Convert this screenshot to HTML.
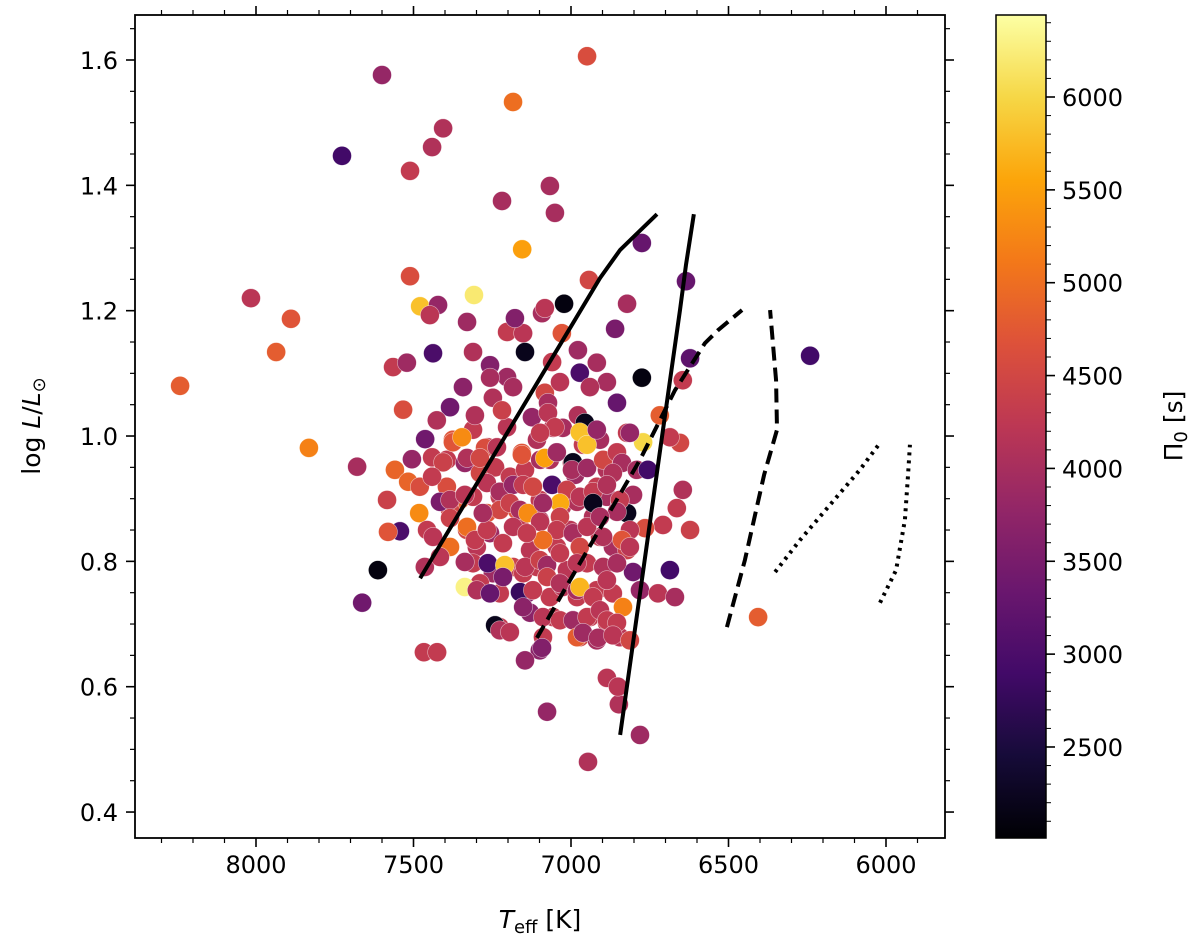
<!DOCTYPE html>
<html><head><meta charset="utf-8"><style>
body{margin:0;background:#fff;}
svg{display:block;font-family:"DejaVu Sans","Liberation Sans",sans-serif;}
</style></head><body>
<svg id="chart" width="1200" height="945" viewBox="0 0 1200 945">
<defs>
<linearGradient id="inferno" x1="0" y1="1" x2="0" y2="0">
<stop offset="0" stop-color="#000004"/><stop offset="0.1" stop-color="#160b39"/><stop offset="0.2" stop-color="#420a68"/><stop offset="0.3" stop-color="#6a176e"/><stop offset="0.4" stop-color="#932667"/><stop offset="0.5" stop-color="#bc3754"/><stop offset="0.6" stop-color="#dd513a"/><stop offset="0.7" stop-color="#f37819"/><stop offset="0.8" stop-color="#fca50a"/><stop offset="0.9" stop-color="#f6d746"/><stop offset="1" stop-color="#fcffa4"/>
</linearGradient>
<clipPath id="clip"><rect x="135" y="15" width="810" height="823"/></clipPath>
</defs>
<g id="plot"></g>
<g id="axes"></g>
<rect x="996" y="15" width="50" height="823" fill="url(#inferno)" stroke="#000" stroke-width="1.5"/>
<g id="cbar"></g>
<text x="0" y="0" transform="translate(40,426) rotate(-90)" text-anchor="middle" font-size="25">log <tspan font-style="italic">L</tspan>/<tspan font-style="italic">L</tspan><tspan font-size="18" dy="5">⊙</tspan></text>
<text x="540" y="928" text-anchor="middle" font-size="25"><tspan font-style="italic">T</tspan><tspan font-size="18" dy="5">eff</tspan><tspan dy="-5"> [K]</tspan></text>
<text x="0" y="0" transform="translate(1182,426) rotate(-90)" text-anchor="middle" font-size="25">Π<tspan font-size="18" dy="5">0</tspan><tspan dy="-5"> [s]</tspan></text>
</svg>
<script>
const xTicks=[8000,7500,7000,6500,6000];
const yTicks=[0.4,0.6,0.8,1.0,1.2,1.4,1.6];
const cTicks=[2500,3000,3500,4000,4500,5000,5500,6000];
const coreT=[7375,7311,7264,7203,7156,7108,7057,6962,6908,6854,6822,7394,7337,7289,7241,7194,7146,7121,7067,6997,6987,6918,6886,7394,7353,7311,7267,7226,7172,7130,7099,7029,6981,6930,6886,6845,7384,7330,7299,7257,7216,7162,7130,7099,7045,7003,6972,6908,6867,6822,7311,7248,7184,7152,7108,7076,7013,6949,6898,6854,7289,7226,7140,7067,7026,6981,6918,6867,6835,7226,7130,7057,6994,6940,6886,6972,6918,7099,6845];
const coreL=[0.994,1.010,0.982,1.014,0.973,0.994,1.013,0.986,0.994,0.966,1.005,0.962,0.957,0.941,0.950,0.935,0.946,0.919,0.962,0.957,0.938,0.919,0.946,0.919,0.898,0.903,0.877,0.903,0.882,0.877,0.898,0.887,0.895,0.871,0.903,0.893,0.882,0.850,0.823,0.845,0.829,0.855,0.818,0.866,0.823,0.850,0.823,0.839,0.823,0.818,0.797,0.781,0.791,0.781,0.791,0.775,0.786,0.797,0.791,0.797,0.765,0.749,0.749,0.743,0.759,0.743,0.754,0.749,0.727,0.695,0.718,0.711,0.706,0.711,0.702,0.679,0.674,0.658,0.679];
const coreP=[4700,4300,4300,4200,4700,4100,4200,4300,4000,4500,4300,4300,3800,4500,4300,4300,4300,4500,4100,4200,3900,4300,4100,4600,4800,4300,4700,4300,4700,4800,4300,4200,4100,4100,4000,4000,4500,4500,4200,3900,4300,4300,4200,4100,4300,4200,4300,4300,4000,4400,4300,3900,4400,4300,4300,4400,4200,4300,4200,4200,4300,4300,3600,4300,4200,4300,4300,4300,5000,4300,3700,4300,4000,4300,4300,4500,4000,3700,4200];
const teff=[8241,8016,7889,7936,7832,7679,7511,7479,7565,7521,7533,7463,7505,7559,7517,7584,7482,7543,7581,7613,7663,7467,7425,
7600,7727,7406,7441,7511,7184,6949,7219,7067,7051,7155,7308,7022,6943,6775,6635,6822,6860,6622,6241,6406,6946,6781,6848,7076,
7422,7448,7330,7203,7152,7178,7092,7083,7029,7438,7311,7146,7257,7203,7257,7184,7060,6978,6972,6918,6886,6940,7083,7035,6854,6775,6645,7343,7384,7248,7219,7305,7426,
7124,7073,7073,6978,6956,7026,6972,6949,6918,7051,7098,6718,6771,6813,6654,6686,7441,7406,7375,7346,7330,7273,7289,7235,7156,7098,7083,7045,6994,6997,6949,6898,6854,6838,6791,6756,
7480,7441,7416,7384,7337,7267,7226,7184,7152,7121,7060,7013,7035,6972,6930,6930,6867,6886,6822,6803,6845,6854,6645,6664,6708,6622,6765,6813,
7457,7438,7384,7330,7384,7305,7267,7226,7194,7162,7137,7089,7035,7098,7045,7089,6994,6949,6898,6838,6908,7184,7280,7140,
7464,7416,7337,7264,7210,7146,7099,7076,7035,6972,6981,6898,6803,6854,6813,6686,7337,7299,7257,7216,7162,7121,7076,7035,6981,6972,6930,6886,6835,6781,6724,6670,
7241,7226,7194,7152,7089,7035,6994,6949,6908,6886,6854,7089,7092,6981,6962,6914,6867,6813,7146,6886,6851];
const logL=[1.080,1.220,1.187,1.134,0.981,0.951,1.255,1.207,1.110,1.117,1.042,0.995,0.963,0.946,0.927,0.898,0.877,0.848,0.847,0.786,0.734,0.655,0.655,
1.576,1.447,1.491,1.461,1.423,1.533,1.606,1.375,1.399,1.356,1.298,1.225,1.211,1.249,1.308,1.247,1.211,1.171,1.124,1.128,0.711,0.480,0.523,0.572,0.560,
1.209,1.193,1.182,1.166,1.164,1.188,1.196,1.204,1.164,1.132,1.134,1.134,1.113,1.094,1.093,1.078,1.118,1.137,1.101,1.117,1.086,1.078,1.069,1.086,1.053,1.093,1.089,1.078,1.046,1.061,1.041,1.033,1.025,
1.030,1.053,1.037,1.033,1.021,1.013,1.006,0.986,1.010,1.014,1.005,1.033,0.990,1.005,0.989,0.998,0.966,0.958,0.990,0.998,0.965,0.981,0.965,0.982,0.970,0.962,0.965,0.974,0.958,0.946,0.949,0.962,0.974,0.957,0.946,0.946,
0.919,0.935,0.895,0.898,0.906,0.925,0.911,0.922,0.922,0.919,0.922,0.914,0.893,0.903,0.911,0.893,0.941,0.922,0.877,0.906,0.898,0.879,0.914,0.885,0.858,0.850,0.853,0.850,
0.850,0.839,0.869,0.855,0.823,0.834,0.850,0.882,0.893,0.882,0.877,0.893,0.871,0.863,0.850,0.834,0.845,0.855,0.839,0.834,0.871,0.855,0.877,0.845,
0.791,0.807,0.799,0.797,0.794,0.791,0.802,0.794,0.813,0.823,0.797,0.791,0.783,0.797,0.823,0.786,0.759,0.754,0.749,0.775,0.751,0.754,0.775,0.765,0.754,0.759,0.743,0.770,0.727,0.754,0.749,0.743,
0.698,0.690,0.687,0.727,0.711,0.706,0.706,0.711,0.722,0.706,0.702,0.679,0.662,0.679,0.686,0.678,0.682,0.674,0.642,0.614,0.600];
const period=[4800,4200,4700,4800,5200,4000,4600,5800,4300,3900,4600,3400,3800,4900,4900,4400,5300,3000,4700,2100,3400,4300,4300,
3800,2900,4100,4100,4300,5000,4600,4000,4000,4000,5500,6200,2100,4500,3300,3300,4000,3500,3200,2900,4800,4100,3900,4100,3800,
3800,4200,3900,4300,4200,3600,4000,4200,4700,3000,4100,2200,3600,3900,4000,4000,4300,3900,3000,4000,4000,4100,4500,4200,3300,2100,4300,3700,3400,4100,4400,4100,4100,
3800,4000,4200,4100,2200,4000,5800,5800,3800,4300,4300,4800,6000,3800,4500,4300,4300,4400,4700,5300,4100,4600,4500,4200,4700,4000,5500,3900,2200,4000,3900,4500,4300,4000,4000,2900,
4600,4300,3500,4100,4200,4200,4000,3800,4300,4500,3000,4400,5600,4200,4300,2200,4100,4100,2200,4000,4300,4000,4100,4300,4300,4400,4600,4200,
4300,4200,4400,5000,5000,4300,4300,4500,4400,4000,5300,3900,4400,4200,4300,5000,4000,4200,4100,4700,4000,4200,4000,4300,
4100,4200,4000,3000,5800,4200,4400,3900,4300,4500,4200,4100,3400,4000,4200,2900,6300,4100,3300,3500,2800,4300,4400,4100,4000,5700,4300,4200,5200,3800,4200,4000,
2200,4100,4200,3700,4200,4300,3900,4300,4200,4300,4300,4300,3600,4800,3900,4000,4200,4500,3800,4200,4200];
const track1T=[7479,6908,6844,6727], track1L=[0.773,1.252,1.297,1.354];
const track2T=[6844,6717,6654,6635,6610], track2L=[0.523,0.978,1.201,1.273,1.354];
const track3T=[7108,7003,6892,6781,6670,6575,6533,6457], track3L=[0.678,0.770,0.866,0.962,1.073,1.148,1.169,1.201];
const track4T=[6505,6448,6387,6346,6349,6368], track4L=[0.695,0.802,0.938,1.010,1.089,1.201];
const track5T=[6352,6273,6178,6083,6019], track5L=[0.783,0.834,0.890,0.946,0.989];
const track6T=[6019,5968,5940,5930,5924], track6L=[0.734,0.786,0.866,0.938,0.986];

const NS="http://www.w3.org/2000/svg";
const X=t=>256+(8000-t)*0.315;
const Y=l=>60+(1.6-l)*626.7;
const CY=p=>97+(6000-p)*0.18571;
const stops=[[0,0,4],[22,11,57],[66,10,104],[106,23,110],[147,38,103],[188,55,84],[221,81,58],[243,120,25],[252,165,10],[246,215,70],[252,255,164]];
function cmap(p){let t=(p-2010)/(6441-2010);t=Math.max(0,Math.min(1,t))*10;const i=Math.min(9,Math.floor(t)),f=t-i;const a=stops[i],b=stops[i+1];return `rgb(${a.map((v,k)=>Math.round(v+(b[k]-v)*f)).join(',')})`;}
function mk(tag,attrs,parent){const e=document.createElementNS(NS,tag);for(const k in attrs)e.setAttribute(k,attrs[k]);parent.appendChild(e);return e;}
const plot=document.getElementById('plot');
const pts=mk('g',{'clip-path':'url(#clip)'},plot);


const allT=coreT.concat(teff), allL=coreL.concat(logL), allP=coreP.concat(period);
for(let i=0;i<allT.length;i++){
 const c=mk('circle',{cx:X(allT[i]),cy:Y(allL[i]),r:9.5,fill:cmap(allP[i]),stroke:'#fff','stroke-width':0.6,'stroke-opacity':0.6},pts);
 
 
}
function track(T,L,dash,name){
 const p=mk('polyline',{points:T.map((t,i)=>X(t)+','+Y(L[i])).join(' '),fill:'none',stroke:'#000','stroke-width':4,'stroke-dasharray':dash},plot);
 
 
}
track(track1T,track1L,'none','solid-track-blue-edge');
track(track2T,track2L,'none','solid-track-red-edge');
track(track3T,track3L,'14,7','dashed-track-blue-edge');
track(track4T,track4L,'14,7','dashed-track-red-edge');
track(track5T,track5L,'3,5','dotted-track-blue-edge');
track(track6T,track6L,'3,5','dotted-track-red-edge');

const ax=document.getElementById('axes');
const fr=mk('rect',{x:135,y:15,width:810,height:823,fill:'none',stroke:'#000','stroke-width':1.8},ax);


for(let t=8300;t>=5900;t-=100){const x=X(t);if(x<135||x>945)continue;const maj=t%500===0;const L=maj?9:5;
 mk('line',{x1:x,y1:838,x2:x,y2:838+L,stroke:'#000','stroke-width':maj?1.6:1.2},ax);
 mk('line',{x1:x,y1:15,x2:x,y2:15-L,stroke:'#000','stroke-width':maj?1.6:1.2},ax);}
xTicks.forEach(t=>{const e=mk('text',{x:X(t),y:873,'text-anchor':'middle','font-size':24},ax);e.textContent=t;
 
 });
for(let k=8;k<=33;k++){const l=k*0.05;const y=Y(l);if(y<15||y>838)continue;const maj=k%4===0;const L=maj?9:5;
 mk('line',{x1:135,y1:y,x2:135-L,y2:y,stroke:'#000','stroke-width':maj?1.6:1.2},ax);
 mk('line',{x1:945,y1:y,x2:945+L,y2:y,stroke:'#000','stroke-width':maj?1.6:1.2},ax);}
yTicks.forEach(l=>{const e=mk('text',{x:118,y:Y(l)+9,'text-anchor':'end','font-size':24},ax);e.textContent=l.toFixed(1);
 
 });
const cb=document.getElementById('cbar');
cTicks.forEach(p=>{const y=CY(p);mk('line',{x1:1046,y1:y,x2:1055,y2:y,stroke:'#000','stroke-width':1.6},cb);
 const e=mk('text',{x:1062,y:y+9,'font-size':24},cb);e.textContent=p;
 
 });
for(let p=2100;p<=6400;p+=100){if(p%500===0)continue;const y=CY(p);mk('line',{x1:1046,y1:y,x2:1051,y2:y,stroke:'#000','stroke-width':1},cb);}
</script>
</body></html>
